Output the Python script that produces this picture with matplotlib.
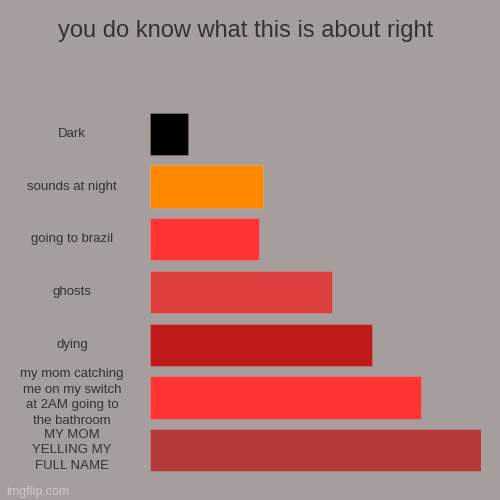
import matplotlib
matplotlib.use('Agg')
import matplotlib.pyplot as plt

plt.rcParams['font.family'] = ['Liberation Sans', 'DejaVu Sans']

BG = '#a69e9c'
TXT = '#333333'

labels = ['Dark', 'sounds at night', 'going to brazil', 'ghosts', 'dying',
          'my mom catching\nme on my switch\nat 2AM going to\nthe bathroom',
          'MY MOM\nYELLING MY\nFULL NAME']
values = [11.5, 34, 33, 55, 67, 82, 100]
colors = ['#000000', '#ff8800', '#ff3535', '#dd3f3f', '#c01a1a', '#ff3535', '#b53a3a']

fig = plt.figure(figsize=(5, 5), dpi=100)
fig.patch.set_facecolor(BG)
ax = fig.add_axes([0.3, 0.047, 0.662, 0.738])
ax.set_facecolor(BG)

ypos = list(range(len(labels)))
ax.barh(ypos, values, height=0.8, color=colors, edgecolor='#ffffff30', linewidth=0.5)
ax.set_xlim(0, max(values))
ax.set_ylim(len(labels) - 0.5, -0.5)
for s in ax.spines.values():
    s.set_visible(False)
ax.set_xticks([])
ax.set_yticks([])

for y, lab in zip(ypos, labels):
    ax.text(-0.235, y, lab, transform=ax.get_yaxis_transform(), ha='center', va='center',
            fontsize=9.5, color=TXT, linespacing=1.4)

fig.text(0.492, 0.938, 'you do know what this is about right', ha='center', va='center',
         fontsize=17, color=TXT)
fig.text(0.012, 0.016, 'imgflip.com', ha='left', va='center', fontsize=9, color='#ccc6c4')

fig.savefig('out.png', dpi=100, facecolor=BG)
